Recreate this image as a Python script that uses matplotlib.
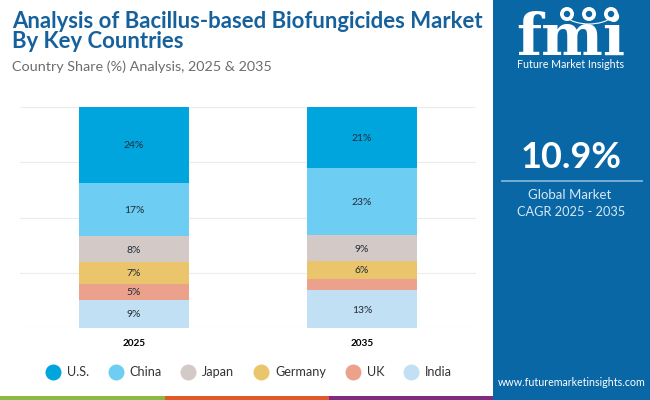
import numpy as np
import matplotlib
matplotlib.use("Agg")
import matplotlib.pyplot as plt
from matplotlib.lines import Line2D
from matplotlib.patches import Rectangle, Circle, Arc

# data
years = ["2025", "2035"]
countries = ["U.S.", "China", "Japan", "Germany", "UK", "India"]
us = [24, 21]
china = [17, 23]
japan = [8, 9]
germany = [7, 6]
uk = [5, 4]
india = [9, 13]
colors = ["#00a5de", "#6dcdf2", "#d3c9c6", "#eac56b", "#eba18c", "#c1e0f3"]

BLUE = "#0a67a6"
FONT = ["Lato", "DejaVu Sans"]
plt.rcParams["font.family"] = FONT

W, H = 650, 400
fig = plt.figure(figsize=(6.5, 4), dpi=100)

# overlay in pixel coords for the sidebar etc
bg = fig.add_axes([0, 0, 1, 1], zorder=0)
bg.set_xlim(0, W)
bg.set_ylim(H, 0)
bg.axis("off")
bg.add_patch(Rectangle((0, 396), 165, 4, color="#8ab944", lw=0))
bg.add_patch(Rectangle((165, 396), 164, 4, color="#e0592a", lw=0))
bg.add_patch(Rectangle((329, 396), 164, 4, color="#7f2b82", lw=0))
bg.add_patch(Rectangle((493, 0), 157, 400, color=BLUE, lw=0))

# logo
bg.text(571, 55, "fmi", color="white", fontsize=42, fontweight="bold", family="DejaVu Serif",
        ha="center", va="baseline")
for y in np.arange(25, 56, 5):
    bg.plot([512, 630], [y, y], color=BLUE, lw=0.7)
for cx in [567, 589, 611]:
    bg.add_patch(Circle((cx, 14), 7, color="white", lw=0, zorder=4))
    bg.add_patch(Circle((cx, 14), 3.2, color=BLUE, lw=0, zorder=5))
bg.add_patch(Arc((589, 6), 60, 36, theta1=25, theta2=155, color="white", lw=0.8))
bg.text(571, 65, "Future Market Insights", color="white", fontsize=7.7, ha="center", va="center")

# sidebar text
bg.text(571, 157, "10.9%", color="white", fontsize=26, fontweight="bold", ha="center", va="center")
bg.plot([502, 642], [181, 181], color="#7fb4d8", lw=1.3)
bg.text(570, 195, "Global Market", color="#d5e8f5", fontsize=9.5, ha="center", va="center")
bg.text(571, 212, "CAGR 2025 - 2035", color="#d5e8f5", fontsize=9.2, ha="center", va="center")
bg.text(572, 383, "www.futuremarketinsights.com", color="white", fontsize=7.7, ha="center", va="center")

# titles
bg.text(12, 22, "Analysis of Bacillus-based Biofungicides Market", color="#16619c",
        fontsize=15.9, fontweight="bold", ha="left", va="center")
bg.text(12, 42, "By Key Countries", color="#16619c", fontsize=15.9, fontweight="bold",
        ha="left", va="center")
bg.text(12, 67, "Country Share (%) Analysis, 2025 & 2035", color="#6d6d6d", fontsize=10.4,
        ha="left", va="center")

# chart, bars are stacked to 100% of the listed countries
ax = fig.add_axes([20 / W, 1 - 328 / H, 456 / W, 221 / H], zorder=1)
ax.patch.set_alpha(0)
series = [us, china, japan, germany, uk, india]
totals = np.sum(series, axis=0)
x = np.arange(len(years))
top = np.full(len(years), 100.0)
for vals, c in zip(series, colors):
    h = np.array(vals) / totals * 100
    ax.bar(x, h, 0.48, bottom=top - h, color=c, zorder=2)
    for xi, v, t, hi in zip(x, vals, top, h):
        if v >= 5:
            ax.text(xi, t - hi / 2, f"{v}%", ha="center", va="center_baseline", fontsize=7.5,
                    color="#222b36", zorder=3)
    top = top - h

ax.set_xlim(-0.5, 1.5)
ax.set_ylim(0, 100)
ax.set_yticks([0, 25, 50, 75, 100])
ax.set_yticklabels([])
ax.set_xticks(x)
ax.set_xticklabels(years, fontsize=7.2, fontweight="bold", color="black")
ax.tick_params(length=0, pad=8)
ax.grid(axis="y", color="#ececec", lw=0.8, zorder=0)
for s in ax.spines.values():
    s.set_visible(False)

# legend
handles = [Line2D([], [], ls="", marker="o", ms=11.5, color=c, mew=0) for c in colors]
fig.legend(handles, countries, ncol=6, loc="center", bbox_to_anchor=(246 / W, 1 - 372 / H),
           frameon=False, fontsize=9.1, handletextpad=0.1, columnspacing=1.12,
           labelcolor="#333333")

fig.savefig("out.png", dpi=100)
